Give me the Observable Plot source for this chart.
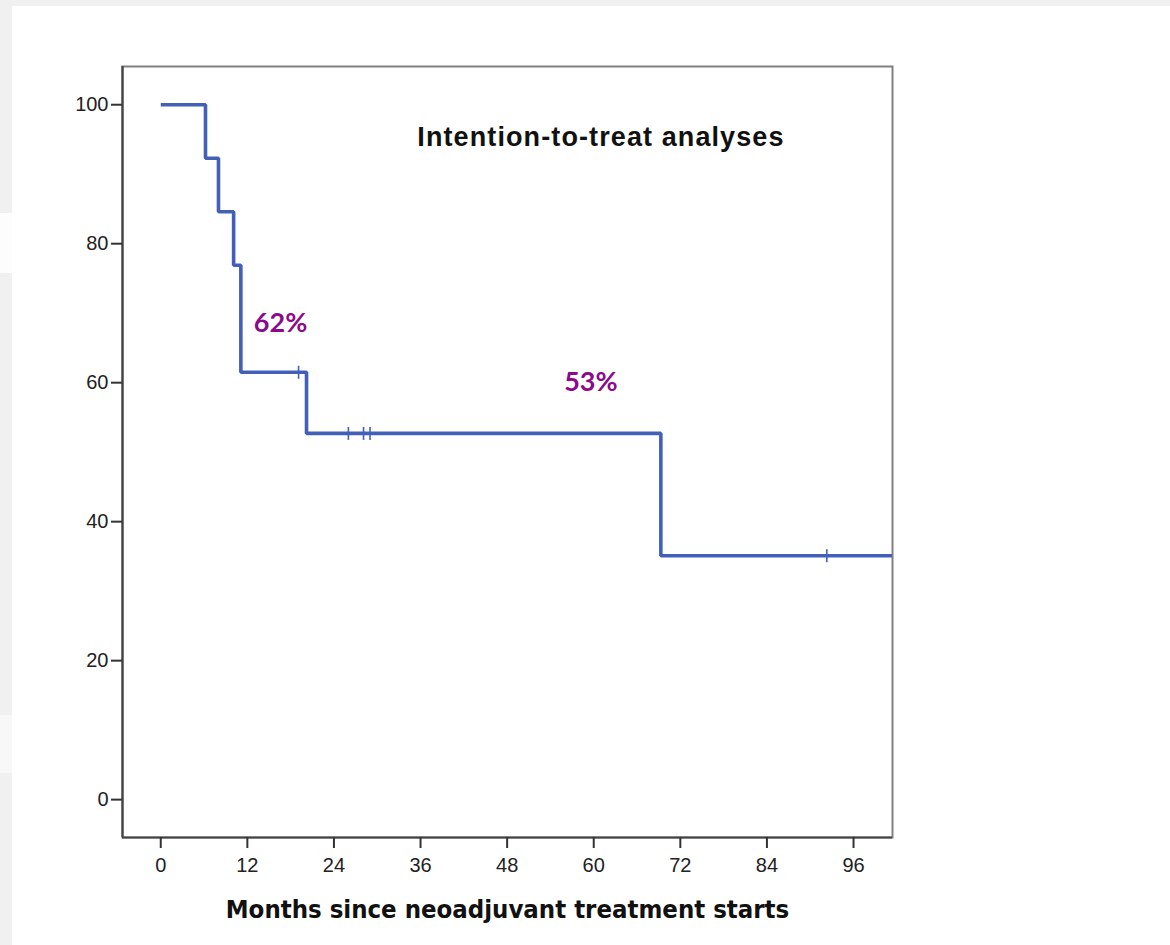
<!DOCTYPE html>
<html><head><meta charset="utf-8">
<script src="https://cdn.jsdelivr.net/npm/d3@7"></script>
<script src="https://cdn.jsdelivr.net/npm/@observablehq/plot@0.6"></script>
<style>
html,body{margin:0;padding:0;background:#f0f0f0;overflow:hidden;width:1170px;height:945px;}
#bg{position:absolute;left:12px;top:6px;width:1158px;height:939px;background:#fff;}
.patch{position:absolute;left:0;width:12px;}
#chart{position:absolute;left:0;top:0;}
</style></head><body>
<div id="bg"></div>
<div class="patch" style="top:213px;height:60px;background:#fdfdfd;"></div>
<div class="patch" style="top:715px;height:58px;background:#f8f8f8;"></div>
<div id="chart"></div>
<script>
// Kaplan–Meier step values (months, survival %)
const eventMonths = [0, 6.2, 8.0, 10.1, 11.1, 20.2, 69.3, 101.4];
const survivalPct = [100, 92.3, 84.6, 76.9, 61.5, 52.7, 35.1, 35.1];
// censored observations
const censorMonths = [19.1, 26.0, 28.1, 29.0, 92.3];
const censorPct = [61.5, 52.7, 52.7, 52.7, 35.1];
// ticks
const xTicks = [0, 12, 24, 36, 48, 60, 72, 84, 96];
const yTicks = [0, 20, 40, 60, 80, 100];
// texts
const titleText = "Intention-to-treat analyses";
const xLabel = "Months since neoadjuvant treatment starts";
const annotLabels = ["62%", "53%"];
const annotMonths = [16.6, 59.6];
const annotPct = [68.6, 60.1];
const titleMonth = 61;
const titlePct = 95.3;

const xDomain = [-5.3, 101.4];
const yDomain = [-5.45, 105.5];

const curve = eventMonths.map((m, i) => ({month: m, pct: survivalPct[i]}));
const censors = censorMonths.map((m, i) => ({month: m, pct: censorPct[i]}));
const annots = annotLabels.map((t, i) => ({label: t, month: annotMonths[i], pct: annotPct[i]}));

const vbar = {
  draw(ctx, size) {
    const r = Math.sqrt(size / Math.PI);
    ctx.moveTo(0, -r);
    ctx.lineTo(0, r);
  }
};

const blue = "#4260b8";

const chart = Plot.plot({
  width: 1170,
  height: 945,
  marginLeft: 122,
  marginRight: 278,
  marginTop: 66,
  marginBottom: 108,
  style: {background: "transparent", fontFamily: "'Liberation Sans', Arial, sans-serif"},
  x: {domain: xDomain, ticks: xTicks},
  y: {domain: yDomain, ticks: yTicks},
  marks: [
    Plot.frame({stroke: "#808080", strokeWidth: 2}),
    Plot.ruleX([xDomain[0]], {stroke: "#444", strokeWidth: 2.2}),
    Plot.ruleY([yDomain[0]], {stroke: "#444", strokeWidth: 2.2}),
    Plot.axisY({ticks: yTicks, tickSize: 11, tickPadding: 3, stroke: "#333", strokeWidth: 2, fontSize: 20, fill: "#222", label: null}),
    Plot.axisX({ticks: xTicks, tickSize: 11, tickPadding: 9, stroke: "#333", strokeWidth: 2, fontSize: 20, fill: "#222", label: null}),
    Plot.line(curve, {x: "month", y: "pct", curve: "step-after", stroke: blue, strokeWidth: 3.6, strokeLinejoin: "miter", strokeLinecap: "butt", clip: true}),
    Plot.dot(censors, {x: "month", y: "pct", symbol: vbar, r: 6.5, stroke: blue, strokeWidth: 1.6, fill: "none"}),
    Plot.text(annots, {x: "month", y: "pct", text: "label", fill: "#8b0a8b", fontSize: 27, fontWeight: "bold", fontFamily: "Lato, 'Open Sans', sans-serif", lineAnchor: "middle"}),
    Plot.text([titleText], {x: titleMonth, y: titlePct, text: d => d, fill: "#111", fontSize: 27, fontWeight: "bold", fontFamily: "'Liberation Sans', Arial, sans-serif", lineAnchor: "middle"}),
    Plot.text([xLabel], {frameAnchor: "bottom", dy: 72, text: d => d, fill: "#111", fontSize: 25.5, fontWeight: "bold", fontFamily: "'DejaVu Sans Condensed', 'DejaVu Sans', sans-serif", lineAnchor: "middle"})
  ]
});
d3.select(chart).selectAll("text").filter(function() { return this.textContent === titleText; })
  .style("letter-spacing", "1.1px");
document.getElementById("chart").appendChild(chart);
</script>
</body></html>
